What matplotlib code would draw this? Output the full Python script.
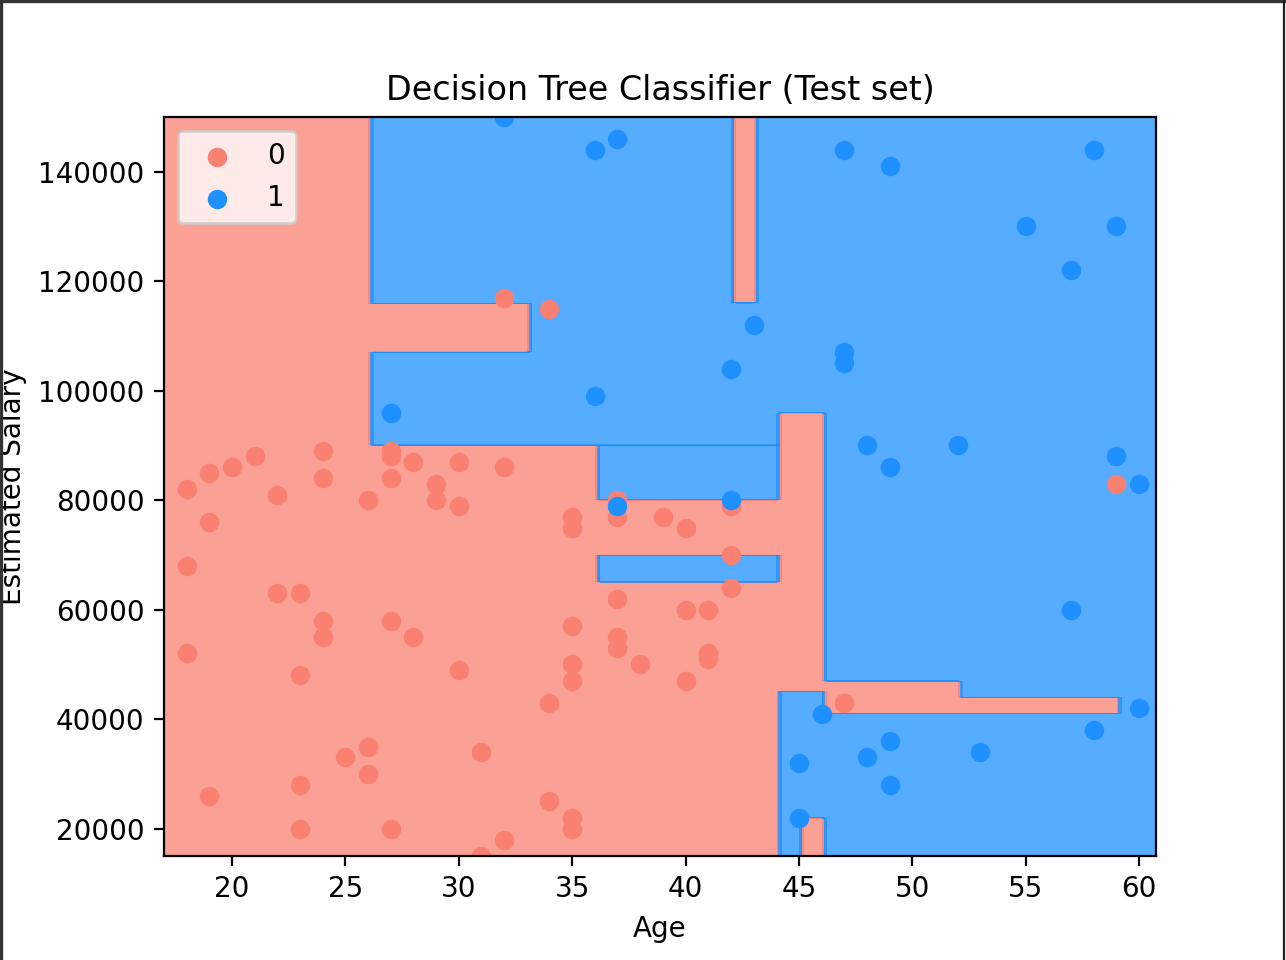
import numpy as np
import matplotlib
matplotlib.use("Agg")
import matplotlib.pyplot as plt
from matplotlib.colors import ListedColormap
from matplotlib.lines import Line2D

# ---- data: test-set points -------------------------------------------------
age_0 = [18, 18, 18, 19, 19, 19, 20, 21, 22, 22, 23, 23, 23, 23, 24, 24, 24, 24,
         25, 26, 26, 26, 27, 27, 27, 27, 27, 28, 28, 29, 29, 30, 30, 30, 31, 31,
         32, 32, 32, 34, 34, 34, 35, 35, 35, 35, 35, 35, 35, 37, 37, 37, 37, 37,
         38, 39, 40, 40, 40, 41, 41, 41, 42, 42, 42, 47, 59]
sal_0 = [82000, 68000, 52000, 85000, 76000, 26000, 86000, 88000, 81000, 63000,
         63000, 48000, 28000, 20000, 89000, 84000, 58000, 55000,
         33000, 80000, 35000, 30000, 89000, 88000, 84000, 58000, 20000,
         87000, 55000, 83000, 80000, 87000, 79000, 49000, 34000, 15000,
         117000, 86000, 18000, 115000, 43000, 25000,
         77000, 75000, 57000, 50000, 47000, 22000, 20000,
         80000, 77000, 62000, 55000, 53000,
         50000, 77000, 75000, 60000, 47000, 60000, 52000, 51000,
         79000, 70000, 64000, 43000, 83000]

age_1 = [27, 32, 36, 36, 37, 37, 42, 42, 43, 45, 45, 46, 47, 47, 47, 48, 48,
         49, 49, 49, 49, 52, 53, 55, 57, 57, 58, 58, 59, 59, 60, 60]
sal_1 = [96000, 150000, 144000, 99000, 146000, 79000, 104000, 80000, 112000,
         32000, 22000, 41000, 144000, 107000, 105000, 90000, 33000,
         141000, 86000, 36000, 28000, 90000, 34000, 130000, 122000, 60000,
         144000, 38000, 130000, 88000, 83000, 42000]

# ---- data: decision regions of the fitted tree (applied in order) ----------
region_class = [1, 0, 0, 1, 1, 1, 0, 0, 0, 0]
region_age_lo = [26.1, 26.1, 42.1, 36.1, 36.1, 44.1, 44.1, 46.1, 52.1, 45.1]
region_age_hi = [61.0, 33.15, 43.15, 44.1, 44.1, 61.0, 46.1, 52.1, 59.15, 46.1]
region_sal_lo = [90000, 107000, 116000, 80000, 65000, 0, 45000, 41000, 41000, 0]
region_sal_hi = [200000, 116000, 200000, 90000, 70000, 96000, 96000, 47000, 44000, 22000]

class_labels = ['0', '1']
class_colors = ['salmon', 'dodgerblue']

# ---- grid and prediction -----------------------------------------------------
ages = np.arange(17, 61, 0.25)
sals = np.arange(15000, 150001, 100)
A, S = np.meshgrid(ages, sals)
Z = np.zeros_like(A)
for c, a0, a1, s0, s1 in zip(region_class, region_age_lo, region_age_hi,
                             region_sal_lo, region_sal_hi):
    m = (A > a0) & (A < a1) & (S > s0) & (S < s1)
    Z[m] = c

# ---- figure -------------------------------------------------------------------
fig = plt.figure(figsize=(6.43, 4.8), dpi=200)
ax = fig.add_axes([164 / 1286, 1 - 856 / 960, (1156 - 164) / 1286, (856 - 117) / 960])

ax.contourf(A, S, Z, alpha=0.75, cmap=ListedColormap(class_colors))
ax.set_xlim(ages.min(), ages.max())
ax.set_ylim(sals.min(), sals.max())

ax.scatter(age_0, sal_0, c=class_colors[0], label=class_labels[0])
ax.scatter(age_1, sal_1, c=class_colors[1], label=class_labels[1])

ax.set_xticks([20, 25, 30, 35, 40, 45, 50, 55, 60])
ax.set_yticks([20000, 40000, 60000, 80000, 100000, 120000, 140000])
ax.set_title('Decision Tree Classifier (Test set)')
ax.set_xlabel('Age')
ax.set_ylabel('Estimated Salary')
ax.legend(loc='upper left')

# screenshot-like frame lines
fig.add_artist(Line2D([0, 1], [0.999, 0.999], transform=fig.transFigure, color='#333333', lw=1.2))
fig.add_artist(Line2D([0.001, 0.001], [0, 1], transform=fig.transFigure, color='#333333', lw=1.2))
fig.add_artist(Line2D([0.9985, 0.9985], [0, 1], transform=fig.transFigure, color='#222222', lw=0.8))

fig.savefig('out.png', dpi=200)
